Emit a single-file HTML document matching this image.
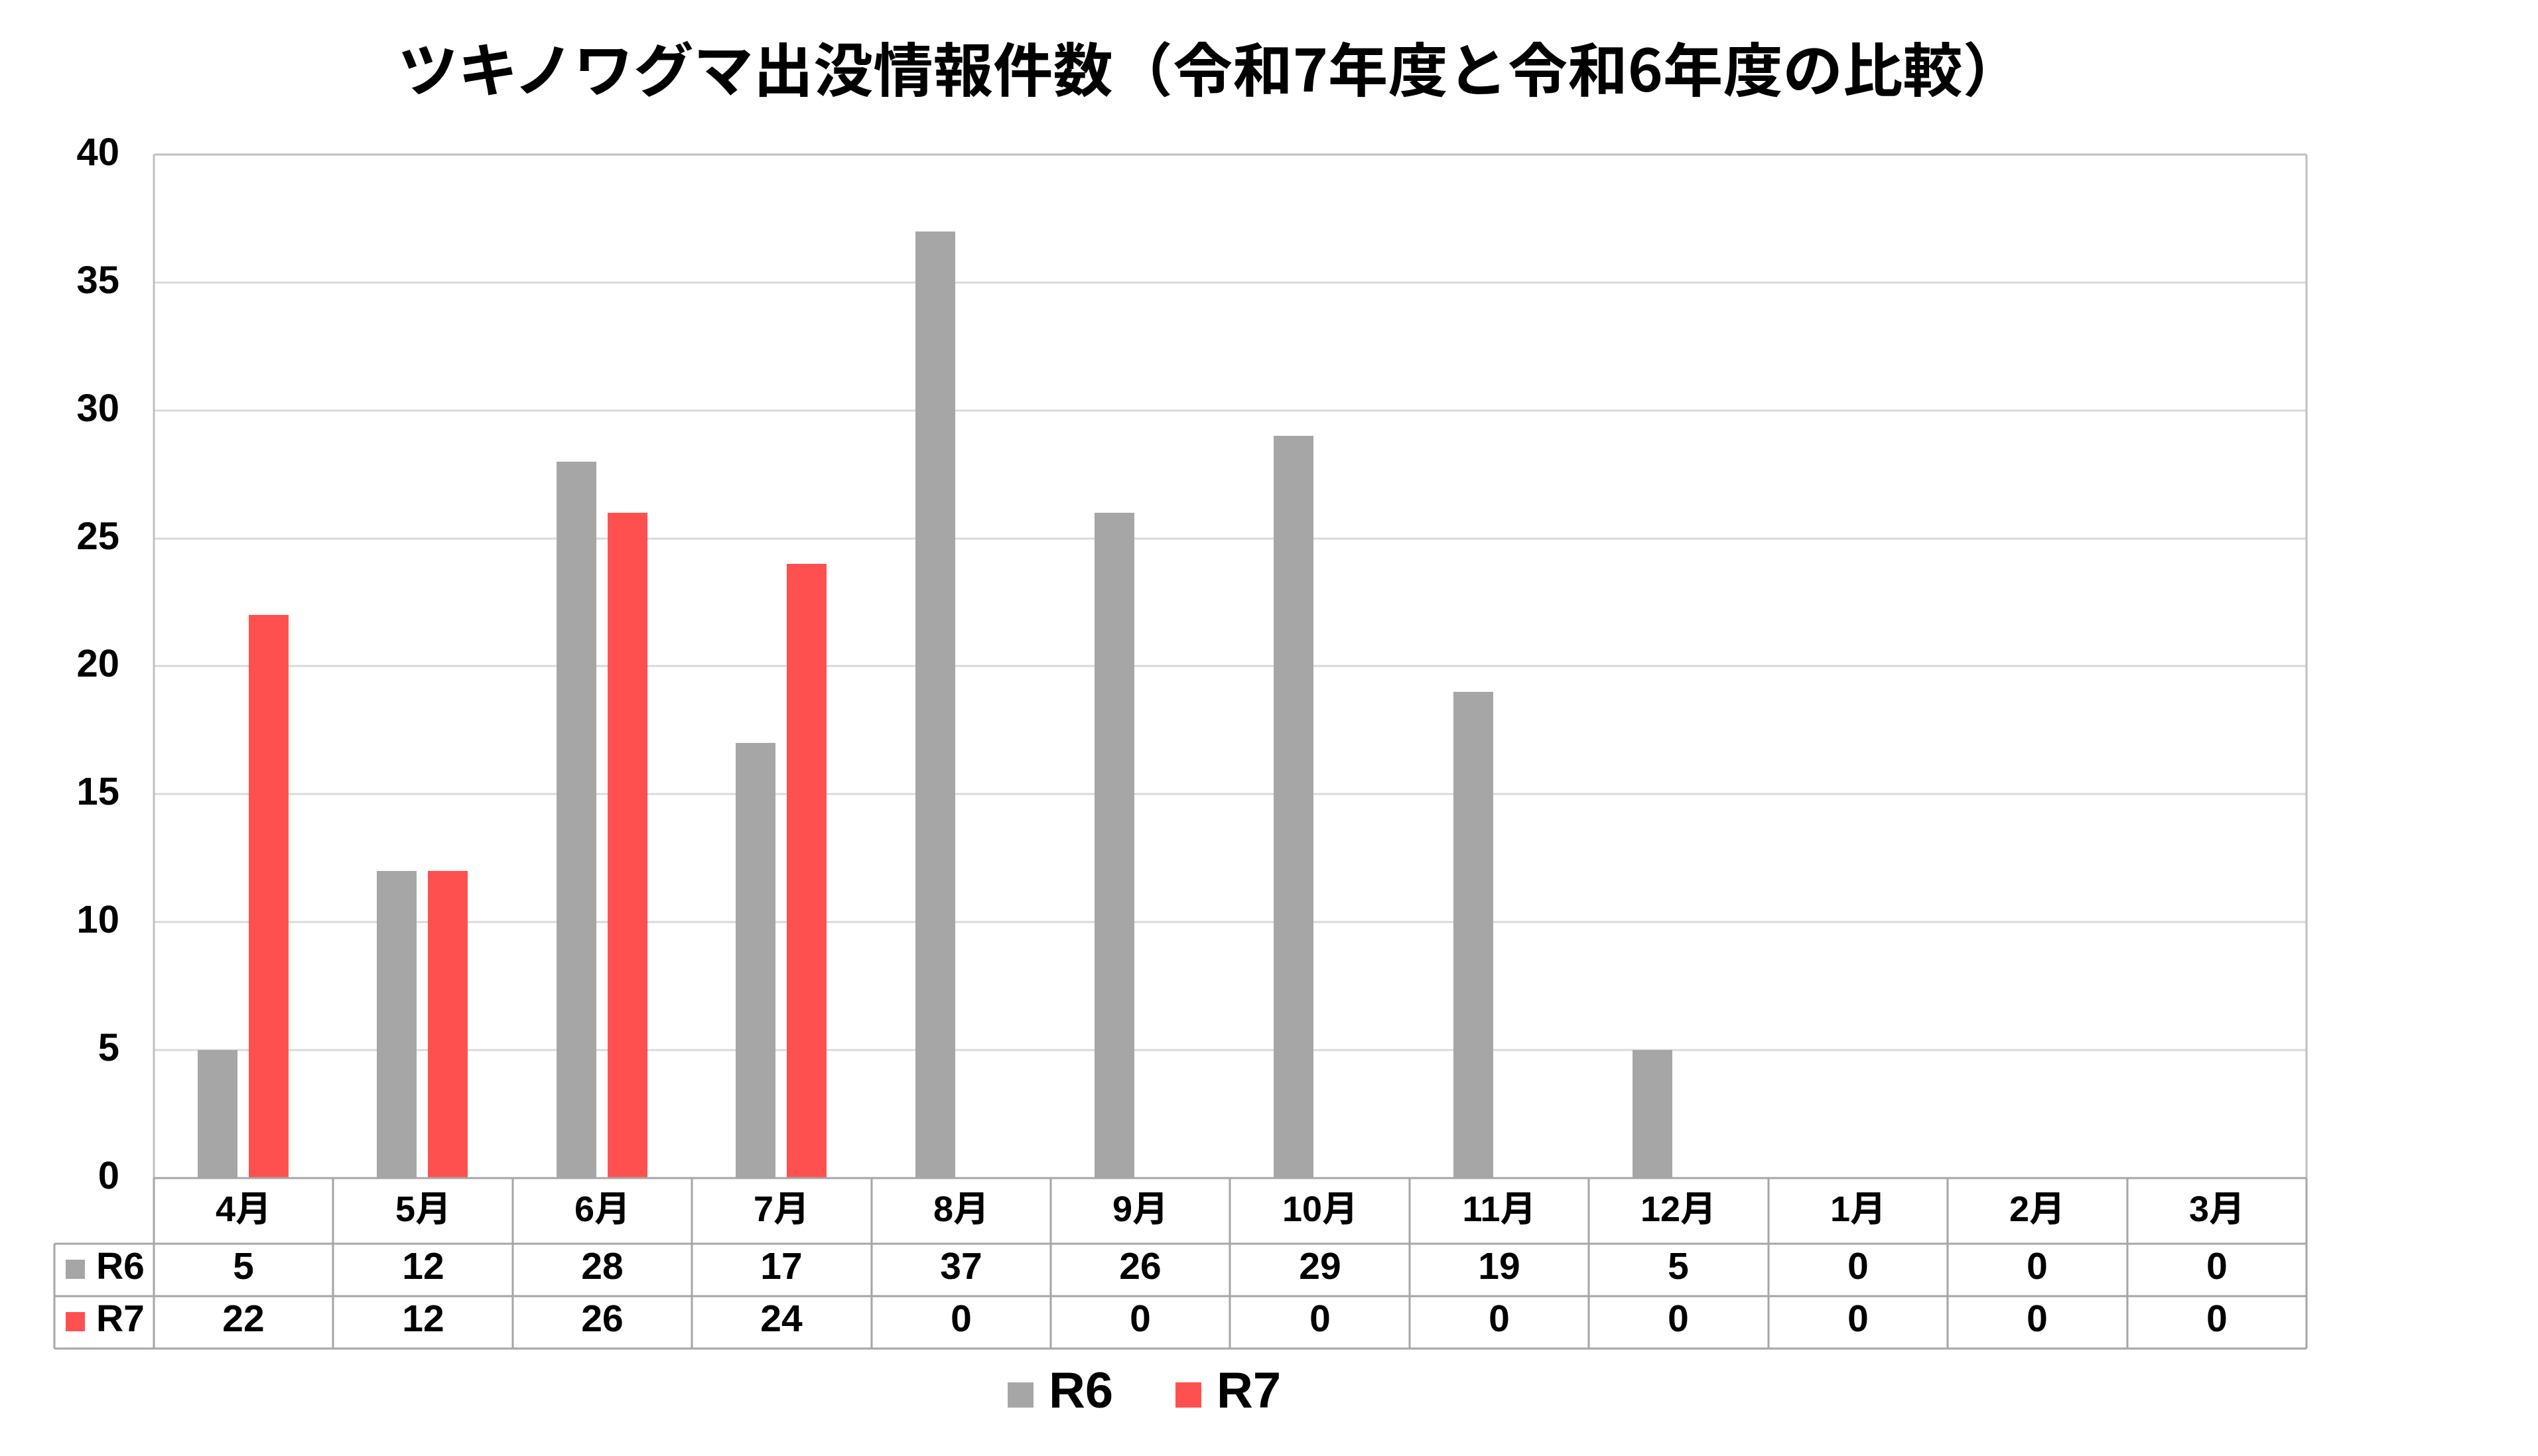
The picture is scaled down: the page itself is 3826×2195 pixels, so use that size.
<!DOCTYPE html>
<html>
<head>
<meta charset="utf-8">
<style>
html,body{margin:0;padding:0;background:#fff;}
svg{display:block;}
text{font-family:"Liberation Sans","Noto Sans CJK JP",sans-serif;fill:#000;}
</style>
</head>
<body>
<svg width="3826" height="2195" viewBox="0 0 3826 2195" xmlns="http://www.w3.org/2000/svg">
<rect x="0" y="0" width="3826" height="2195" fill="#fff"/>
<!-- Title -->
<text x="600" y="138" font-size="88" font-weight="bold" textLength="2449" lengthAdjust="spacingAndGlyphs" style="font-family:'Noto Sans CJK JP',sans-serif">ツキノワグマ出没情報件数（令和7年度と令和6年度の比較）</text>

<!-- gridlines -->
<g stroke="#D9D9D9" stroke-width="3">
<line x1="232" y1="426" x2="3477" y2="426"/>
<line x1="232" y1="619" x2="3477" y2="619"/>
<line x1="232" y1="812" x2="3477" y2="812"/>
<line x1="232" y1="1004" x2="3477" y2="1004"/>
<line x1="232" y1="1197" x2="3477" y2="1197"/>
<line x1="232" y1="1390" x2="3477" y2="1390"/>
<line x1="232" y1="1583" x2="3477" y2="1583"/>
</g>
<!-- plot border -->
<g stroke="#BFBFBF" stroke-width="3" fill="none">
<line x1="232" y1="233" x2="3477" y2="233"/>
<line x1="232" y1="233" x2="232" y2="1776"/>
<line x1="3477" y1="233" x2="3477" y2="1776"/>
</g>

<!-- y labels -->
<g font-size="58" font-weight="bold" text-anchor="end">
<text x="180" y="249">40</text>
<text x="180" y="442">35</text>
<text x="180" y="635">30</text>
<text x="180" y="828">25</text>
<text x="180" y="1020">20</text>
<text x="180" y="1213">15</text>
<text x="180" y="1406">10</text>
<text x="180" y="1599">5</text>
<text x="180" y="1792">0</text>
</g>

<!-- bars: unit 38.58, baseline 1776; col width 270.42 -->
<g fill="#A6A6A6">
<rect x="298" y="1583" width="60" height="193"/>
<rect x="568" y="1313" width="60" height="463"/>
<rect x="839" y="696" width="60" height="1080"/>
<rect x="1109" y="1120" width="60" height="656"/>
<rect x="1380" y="349" width="60" height="1427"/>
<rect x="1650" y="773" width="60" height="1003"/>
<rect x="1920" y="657" width="60" height="1119"/>
<rect x="2191" y="1043" width="60" height="733"/>
<rect x="2461" y="1583" width="60" height="193"/>
</g>
<g fill="#FF5050">
<rect x="375" y="927" width="60" height="849"/>
<rect x="645" y="1313" width="60" height="463"/>
<rect x="916" y="773" width="60" height="1003"/>
<rect x="1186" y="850" width="60" height="926"/>
</g>

<!-- table lines -->
<g stroke="#A6A6A6" stroke-width="3">
<line x1="232" y1="1776" x2="3477" y2="1776"/>
<line x1="82" y1="1875" x2="3477" y2="1875"/>
<line x1="82" y1="1954" x2="3477" y2="1954"/>
<line x1="82" y1="2033" x2="3477" y2="2033"/>
<line x1="82" y1="1875" x2="82" y2="2033"/>
<line x1="232" y1="1776" x2="232" y2="2033"/>
<line x1="502" y1="1776" x2="502" y2="2033"/>
<line x1="773" y1="1776" x2="773" y2="2033"/>
<line x1="1043" y1="1776" x2="1043" y2="2033"/>
<line x1="1314" y1="1776" x2="1314" y2="2033"/>
<line x1="1584" y1="1776" x2="1584" y2="2033"/>
<line x1="1854" y1="1776" x2="1854" y2="2033"/>
<line x1="2125" y1="1776" x2="2125" y2="2033"/>
<line x1="2395" y1="1776" x2="2395" y2="2033"/>
<line x1="2666" y1="1776" x2="2666" y2="2033"/>
<line x1="2936" y1="1776" x2="2936" y2="2033"/>
<line x1="3207" y1="1776" x2="3207" y2="2033"/>
<line x1="3477" y1="1776" x2="3477" y2="2033"/>
</g>

<!-- month labels -->
<g font-size="54" font-weight="bold" text-anchor="middle">
<text x="367" y="1841">4月</text>
<text x="638" y="1841">5月</text>
<text x="908" y="1841">6月</text>
<text x="1178" y="1841">7月</text>
<text x="1449" y="1841">8月</text>
<text x="1719" y="1841">9月</text>
<text x="1990" y="1841">10月</text>
<text x="2260" y="1841">11月</text>
<text x="2530" y="1841">12月</text>
<text x="2801" y="1841">1月</text>
<text x="3071" y="1841">2月</text>
<text x="3342" y="1841">3月</text>
</g>

<!-- R6 row -->
<rect x="99" y="1899" width="29" height="29" fill="#A6A6A6"/>
<text x="145" y="1928" font-size="57" font-weight="bold">R6</text>
<g font-size="57" font-weight="bold" text-anchor="middle">
<text x="367" y="1928">5</text>
<text x="638" y="1928">12</text>
<text x="908" y="1928">28</text>
<text x="1178" y="1928">17</text>
<text x="1449" y="1928">37</text>
<text x="1719" y="1928">26</text>
<text x="1990" y="1928">29</text>
<text x="2260" y="1928">19</text>
<text x="2530" y="1928">5</text>
<text x="2801" y="1928">0</text>
<text x="3071" y="1928">0</text>
<text x="3342" y="1928">0</text>
</g>

<!-- R7 row -->
<rect x="99" y="1978" width="29" height="29" fill="#FF5050"/>
<text x="145" y="2007" font-size="57" font-weight="bold">R7</text>
<g font-size="57" font-weight="bold" text-anchor="middle">
<text x="367" y="2007">22</text>
<text x="638" y="2007">12</text>
<text x="908" y="2007">26</text>
<text x="1178" y="2007">24</text>
<text x="1449" y="2007">0</text>
<text x="1719" y="2007">0</text>
<text x="1990" y="2007">0</text>
<text x="2260" y="2007">0</text>
<text x="2530" y="2007">0</text>
<text x="2801" y="2007">0</text>
<text x="3071" y="2007">0</text>
<text x="3342" y="2007">0</text>
</g>

<!-- legend -->
<rect x="1519" y="2084" width="39" height="38" fill="#A6A6A6"/>
<text x="1581" y="2122" font-size="76" font-weight="bold">R6</text>
<rect x="1772" y="2084" width="39" height="38" fill="#FF5050"/>
<text x="1834" y="2122" font-size="76" font-weight="bold">R7</text>
</svg>
</body>
</html>
